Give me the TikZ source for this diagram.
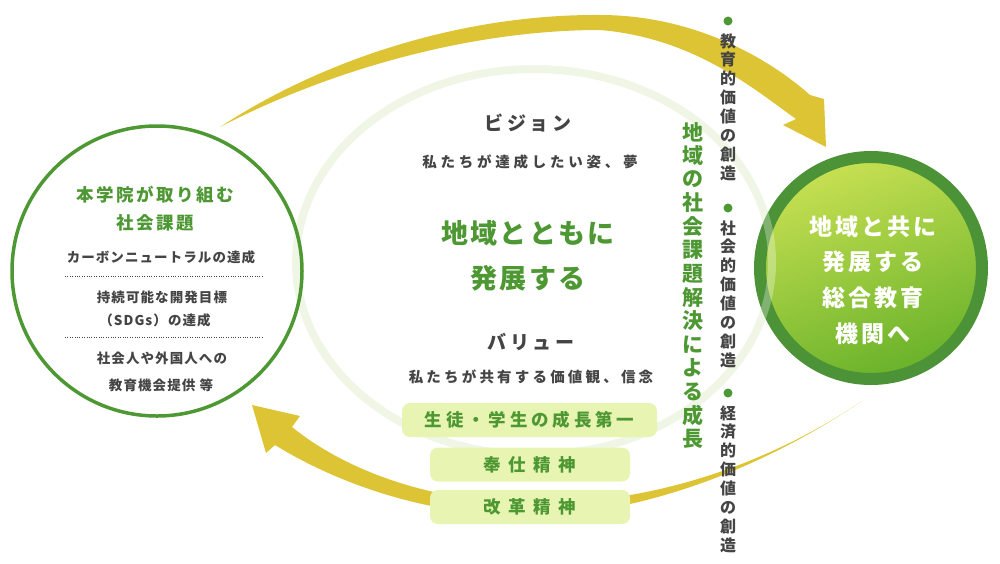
\documentclass[tikz,border=0pt]{standalone}
\usepackage{fontspec}
\setmainfont{Noto Sans CJK JP}
\definecolor{arrowyellow}{RGB}{221,196,52}
\definecolor{leafgreen}{RGB}{78,152,52}
\definecolor{ringgreen}{RGB}{76,146,54}
\definecolor{lightlime}{RGB}{200,224,82}
\definecolor{deeplime}{RGB}{104,178,42}
\definecolor{boxlime}{RGB}{232,244,178}
\definecolor{palering}{RGB}{240,246,229}
\definecolor{textgray}{RGB}{68,68,68}

\begin{document}
\begin{tikzpicture}[x=1pt,y=-1pt,
    heading/.style={text=leafgreen,font=\fontsize{17.5}{20}\selectfont\bfseries\addfontfeature{LetterSpace=14}},
    issue/.style={text=textgray,font=\fontsize{13.5}{16}\selectfont\bfseries\addfontfeature{LetterSpace=8}},
    subhead/.style={text=textgray,font=\fontsize{19}{22}\selectfont\bfseries\addfontfeature{LetterSpace=18}},
    caption/.style={text=textgray,font=\fontsize{14.5}{17}\selectfont\bfseries\addfontfeature{LetterSpace=#1}},
    motto/.style={text=leafgreen,font=\fontsize{27}{30}\selectfont\bfseries\addfontfeature{LetterSpace=8}},
    valuebox/.style={fill=boxlime,rounded corners=8,minimum height=34,inner sep=0,text=leafgreen,
        font=\fontsize{17.5}{20}\selectfont\bfseries\addfontfeature{LetterSpace=#1}},
    goaltext/.style={text=white,font=\fontsize{23}{26}\selectfont\bfseries\addfontfeature{LetterSpace=12}},
    vgreen/.style={text=leafgreen,inner sep=0,font=\fontsize{21}{24}\selectfont\bfseries},
    vgray/.style={text=textgray,inner sep=0,font=\fontsize{16}{18}\selectfont\bfseries}
]
    \useasboundingbox (0,0) rectangle (1000,563);
    % Background ring
    \draw[palering,line width=8] (534,262) ellipse (238 and 193);
    % Upper arrow
    \fill[arrowyellow] (220,127) .. controls (330,55) and (470,14) .. (600,15)
        .. controls (690,15) and (765,55) .. (810,95) -- (824,99) -- (826,147) -- (783,125) -- (796,119)
        .. controls (755,90) and (695,38) .. (600,30) .. controls (470,30) and (330,70) .. (220,127) -- cycle;
    % Lower arrow
    \fill[arrowyellow] (862,401) .. controls (760,470) and (640,515) .. (530,516)
        .. controls (430,516) and (340,485) .. (275,445) -- (266,453) -- (252,405) -- (300,416) -- (292,427)
        .. controls (345,470) and (430,502) .. (530,503) .. controls (640,505) and (760,470) .. (862,401) -- cycle;
    % Issues circle
    \node[circle,draw=leafgreen,line width=3.5,minimum size=290] (issues) at (157,271) {};
    \node[heading] (issuesA) at (155,195) {本学院が取り組む};
    \node[heading] (issuesB) at (155,223) {社会課題};
    \node[issue] (carbon) at (161,257) {カーボンニュートラルの達成};
    \draw[dotted,textgray] (65,276) -- (262,276);
    \node[issue] (sdgsA) at (162,297) {持続可能な開発目標};
    \node[issue] (sdgsB) at (155,320) {（SDGs）の達成};
    \draw[dotted,textgray] (65,337) -- (262,337);
    \node[issue] (adultA) at (162,358) {社会人や外国人への};
    \node[issue] (adultB) at (161,385) {教育機会提供 等};
    % Vision and values
    \node[subhead] (vision) at (528,123) {ビジョン};
    \node[caption=26] (visionText) at (530,162) {私たちが達成したい姿、夢};
    \node[motto] (mottoA) at (528,233) {地域とともに};
    \node[motto] (mottoB) at (528,278) {発展する};
    \node[subhead] (value) at (531,342) {バリュー};
    \node[caption=22] (valueText) at (531,377) {私たちが共有する価値観、信念};
    \node[valuebox=22,minimum width=255] (valueA) at (529.5,420) {生徒・学生の成長第一};
    \node[valuebox=42,minimum width=200] (valueB) at (530,464.5) {奉仕精神};
    \node[valuebox=42,minimum width=200] (valueC) at (530,507) {改革精神};
    % Goal circle
    \node[circle,draw=ringgreen,line width=12,top color=lightlime,bottom color=deeplime,
        shading angle=20,minimum size=222] (goal) at (871,268) {};
    \begin{scope}
        \clip (goal.center) circle (117);
        \draw[white,opacity=.3,line width=8] (534,262) ellipse (238 and 193);
    \end{scope}
    \node[goaltext] (goalA) at (873,227) {地域と共に};
    \node[goaltext] (goalB) at (873,262) {発展する};
    \node[goaltext] (goalC) at (873,298) {総合教育};
    \node[goaltext] (goalD) at (873,334) {機関へ};
    % Vertical labels
    \foreach \c [count=\i] in {地,域,の,社,会,課,題,解,決,に,よ,る,成,長}
        \node[vgreen] (growth\i) at (693,132+23.6*\i-23.6) {\c};
    \foreach \y/\w [count=\k] in {21/{教,育,的,価,値,の,創,造},208/{社,会,的,価,値,の,創,造},393/{経,済,的,価,値,の,創,造}} {
        \fill[leafgreen] (728,\y) circle (4.5);
        \foreach \c [count=\i] in \w
            \node[vgray] (worth\k-\i) at (728,\y+20+18.9*\i-18.9) {\c};
    }
\end{tikzpicture}
\end{document}
